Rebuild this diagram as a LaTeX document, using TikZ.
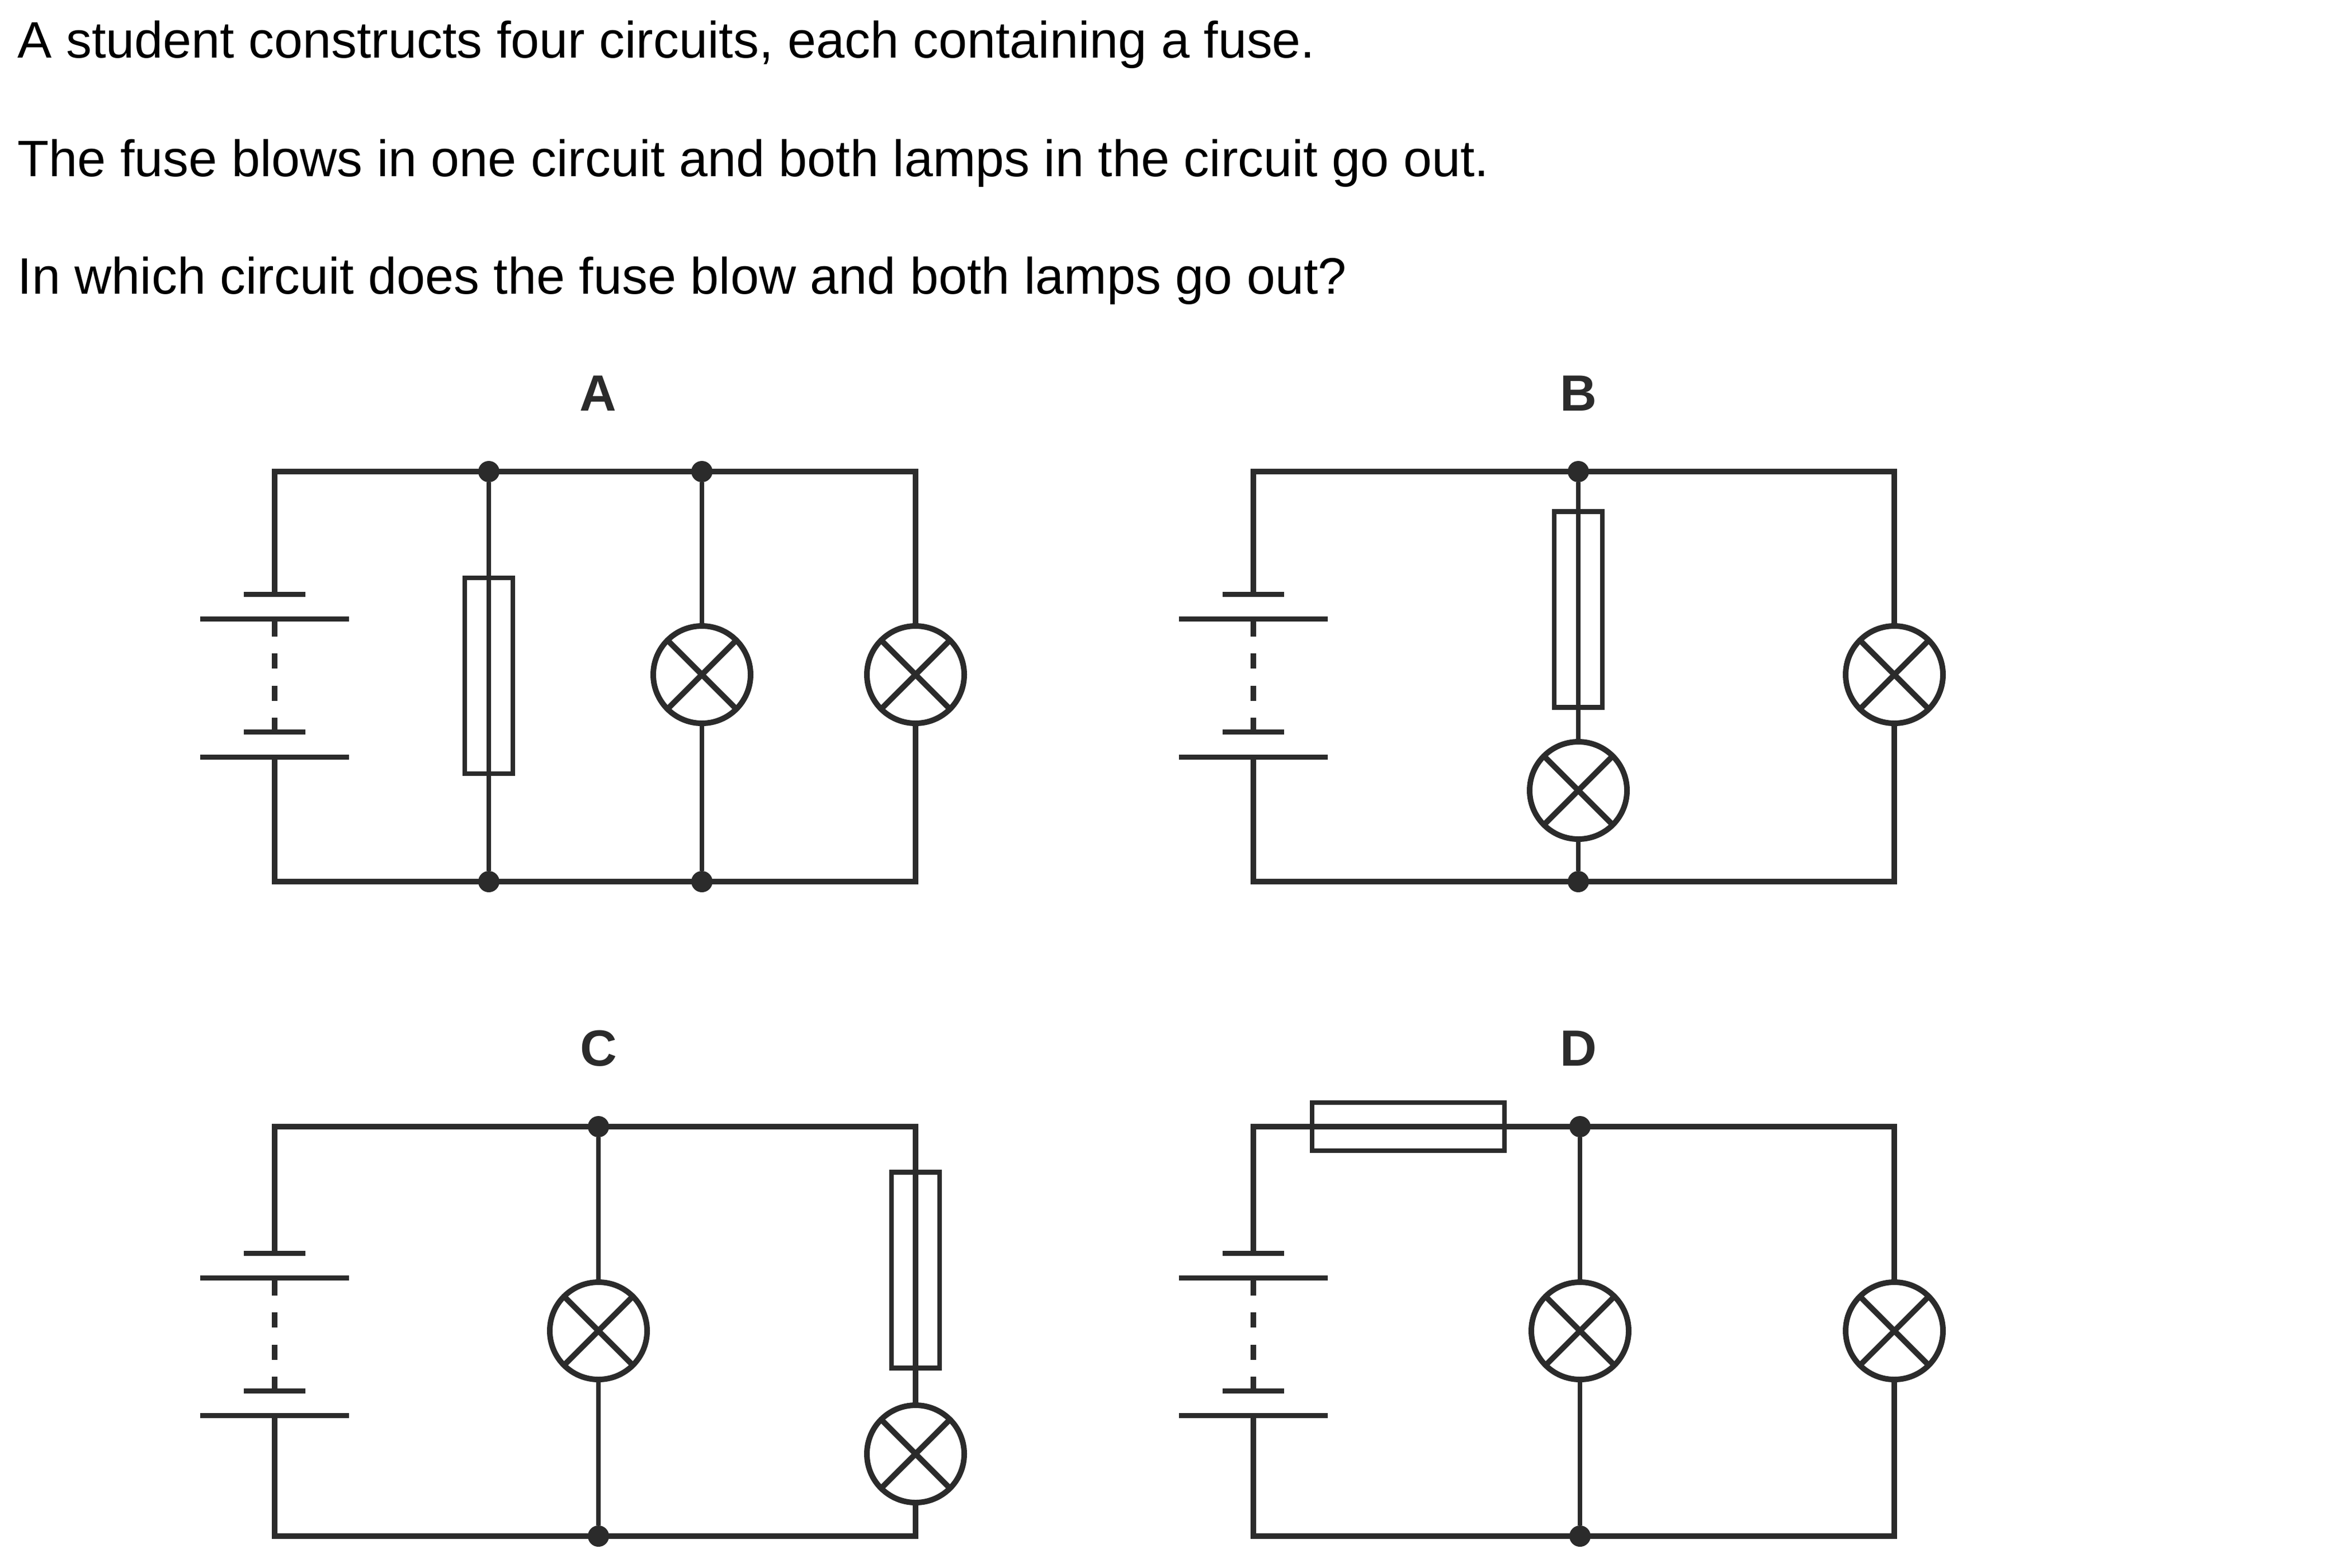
\documentclass[tikz,border=0pt]{standalone}
\usepackage{fontspec}
\setmainfont{Liberation Sans}
\usetikzlibrary{positioning}
\definecolor{wirecol}{HTML}{2B2B2B}

\begin{document}
\begin{tikzpicture}[on grid]
  \tikzstyle{wire}=[draw=wirecol,line width=0.1cm,line cap=rect]
  \tikzstyle{branch}=[draw=wirecol,line width=0.085cm]
  \tikzstyle{gap}=[draw=wirecol,line width=0.1cm,dash pattern=on 0.27cm off 0.305cm]
  \tikzstyle{corner}=[rectangle,minimum size=0pt,inner sep=0pt,outer sep=0pt]
  \tikzstyle{junction}=[circle,fill=wirecol,minimum size=0.38cm,inner sep=0pt,outer sep=0pt]
  \tikzstyle{lamp}=[circle,draw=wirecol,line width=0.1cm,minimum size=1.74cm,inner sep=0pt,
    path picture={\draw[draw=wirecol,line width=0.1cm]
      (path picture bounding box.north west) -- (path picture bounding box.south east)
      (path picture bounding box.north east) -- (path picture bounding box.south west);}]
  \tikzstyle{fuse up}=[rectangle,draw=wirecol,line width=0.085cm,minimum width=0.86cm,minimum height=3.5cm,inner sep=0pt]
  \tikzstyle{fuse side}=[rectangle,draw=wirecol,line width=0.085cm,minimum width=3.44cm,minimum height=0.86cm,inner sep=0pt]
  \tikzstyle{short plate}=[rectangle,fill=wirecol,minimum width=1.1cm,minimum height=0.09cm,inner sep=0pt,outer sep=0pt]
  \tikzstyle{long plate}=[rectangle,fill=wirecol,minimum width=2.66cm,minimum height=0.09cm,inner sep=0pt,outer sep=0pt]
  \tikzstyle{question}=[anchor=base west,inner sep=0pt,font=\fontsize{26.1}{30}\selectfont]
  \tikzstyle{option}=[anchor=base,inner sep=0pt,text=wirecol,font=\fontsize{25.9}{30}\selectfont\bfseries]

  \useasboundingbox (0,0) rectangle (42,-28.02);

  \node[question] (line_1) at (0.31,-1.03) {A student constructs four circuits, each containing a fuse.};
  \node[question] (line_2) at (0.31,-3.15) {The fuse blows in one circuit and both lamps in the circuit go out.};
  \node[question] (line_3) at (0.31,-5.25) {In which circuit does the fuse blow and both lamps go out?};

  \node[option] (opt_a) at (10.69,-7.34) {A};
  \node[option] (opt_b) at (28.22,-7.34) {B};
  \node[option] (opt_c) at (10.70,-19.05) {C};
  \node[option] (opt_d) at (28.22,-19.05) {D};

  \node[corner] (a_tl) at (4.91,-8.43) {};
  \node[corner] (a_tr) [right=11.46cm of a_tl] {};
  \node[corner] (a_bl) [below=7.33cm of a_tl] {};
  \node[corner] (a_br) [below=7.33cm of a_tr] {};
  \node[short plate] (a_s1) [below=2.19cm of a_tl] {};
  \node[long plate]  (a_p1) [below=2.63cm of a_tl] {};
  \node[short plate] (a_s2) [below=4.65cm of a_tl] {};
  \node[long plate]  (a_p2) [below=5.10cm of a_tl] {};
  \node[junction] (a_j1) [right=3.83cm of a_tl] {};
  \node[junction] (a_j2) [right=7.64cm of a_tl] {};
  \node[junction] (a_j3) [below=7.33cm of a_j1] {};
  \node[junction] (a_j4) [below=7.33cm of a_j2] {};
  \node[fuse up] (a_f) [below=3.65cm of a_j1] {};
  \node[lamp] (a_l1) [below=3.63cm of a_j2] {};
  \node[lamp] (a_l2) [below=3.63cm of a_tr] {};

  \path[wire] (a_s1) -- (a_tl) -- (a_tr) -- (a_l2);
  \path[wire] (a_l2) -- (a_br) -- (a_bl) -- (a_p2);
  \path[gap] (a_p1) -- (a_s2);
  \path[branch]
  (a_j1) edge [] (a_j3)
  (a_j2) edge [] (a_l1)
  (a_l1) edge [] (a_j4);

  \node[corner] (b_tl) at (22.41,-8.43) {};
  \node[corner] (b_tr) [right=11.46cm of b_tl] {};
  \node[corner] (b_bl) [below=7.33cm of b_tl] {};
  \node[corner] (b_br) [below=7.33cm of b_tr] {};
  \node[short plate] (b_s1) [below=2.19cm of b_tl] {};
  \node[long plate]  (b_p1) [below=2.63cm of b_tl] {};
  \node[short plate] (b_s2) [below=4.65cm of b_tl] {};
  \node[long plate]  (b_p2) [below=5.10cm of b_tl] {};
  \node[junction] (b_j1) [right=5.81cm of b_tl] {};
  \node[junction] (b_j2) [below=7.33cm of b_j1] {};
  \node[fuse up] (b_f) [below=2.465cm of b_j1] {};
  \node[lamp] (b_l1) [below=5.70cm of b_j1] {};
  \node[lamp] (b_l2) [below=3.63cm of b_tr] {};

  \path[wire] (b_s1) -- (b_tl) -- (b_tr) -- (b_l2);
  \path[wire] (b_l2) -- (b_br) -- (b_bl) -- (b_p2);
  \path[gap] (b_p1) -- (b_s2);
  \path[branch]
  (b_j1) edge [] (b_l1)
  (b_l1) edge [] (b_j2);

  \node[corner] (c_tl) at (4.91,-20.14) {};
  \node[corner] (c_tr) [right=11.46cm of c_tl] {};
  \node[corner] (c_bl) [below=7.32cm of c_tl] {};
  \node[corner] (c_br) [below=7.32cm of c_tr] {};
  \node[short plate] (c_s1) [below=2.26cm of c_tl] {};
  \node[long plate]  (c_p1) [below=2.70cm of c_tl] {};
  \node[short plate] (c_s2) [below=4.72cm of c_tl] {};
  \node[long plate]  (c_p2) [below=5.16cm of c_tl] {};
  \node[junction] (c_j1) [right=5.79cm of c_tl] {};
  \node[junction] (c_j2) [below=7.32cm of c_j1] {};
  \node[lamp] (c_l1) [below=3.65cm of c_j1] {};
  \node[fuse up] (c_f) [below=2.565cm of c_tr] {};
  \node[lamp] (c_l2) [below=5.85cm of c_tr] {};

  \path[wire] (c_s1) -- (c_tl) -- (c_tr) -- (c_l2);
  \path[wire] (c_l2) -- (c_br) -- (c_bl) -- (c_p2);
  \path[gap] (c_p1) -- (c_s2);
  \path[branch]
  (c_j1) edge [] (c_l1)
  (c_l1) edge [] (c_j2);

  \node[corner] (d_tl) at (22.41,-20.14) {};
  \node[corner] (d_tr) [right=11.46cm of d_tl] {};
  \node[corner] (d_bl) [below=7.32cm of d_tl] {};
  \node[corner] (d_br) [below=7.32cm of d_tr] {};
  \node[short plate] (d_s1) [below=2.26cm of d_tl] {};
  \node[long plate]  (d_p1) [below=2.70cm of d_tl] {};
  \node[short plate] (d_s2) [below=4.72cm of d_tl] {};
  \node[long plate]  (d_p2) [below=5.16cm of d_tl] {};
  \node[fuse side] (d_f) [right=2.77cm of d_tl] {};
  \node[junction] (d_j1) [right=5.84cm of d_tl] {};
  \node[junction] (d_j2) [below=7.32cm of d_j1] {};
  \node[lamp] (d_l1) [below=3.65cm of d_j1] {};
  \node[lamp] (d_l2) [below=3.65cm of d_tr] {};

  \path[wire] (d_s1) -- (d_tl) -- (d_tr) -- (d_l2);
  \path[wire] (d_l2) -- (d_br) -- (d_bl) -- (d_p2);
  \path[gap] (d_p1) -- (d_s2);
  \path[branch]
  (d_j1) edge [] (d_l1)
  (d_l1) edge [] (d_j2);
\end{tikzpicture}
\end{document}
